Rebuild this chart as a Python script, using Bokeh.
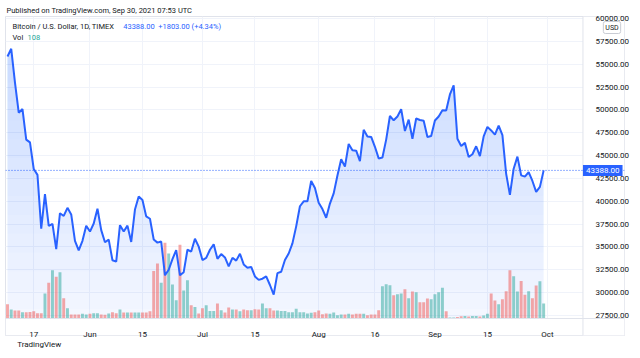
import numpy as np
import pandas as pd
from bokeh.plotting import figure
from bokeh.models import (Range1d, FixedTicker, NumeralTickFormatter, Span, Label,
                          BoxAnnotation)
from bokeh.embed import file_html
from bokeh.resources import INLINE

# ---------------- data ----------------
start_date = "2021-05-10"
closes = [
    # May 10 - May 31
    55860, 56700, 53000, 49700, 50100, 46760, 46450, 43540, 42900, 37000, 40780,
    37300, 37540, 34770, 38700, 38400, 39290, 38560, 35680, 34620, 35680, 37330,
    # June
    36690, 37570, 39190, 36850, 35520, 35800, 33550, 33400, 37390, 36690,
    37340, 35550, 39100, 40520, 40140, 38350, 38090, 35820, 35480, 35600,
    31900, 32510, 33680, 34660, 31900, 32240, 34700, 34500, 35900, 35040,
    # July
    33570, 33800, 34700, 35290, 33700, 34230, 33860, 32880, 33820, 33510,
    34260, 33090, 32730, 32820, 31780, 31400, 31530, 31790, 30840, 29790,
    32140, 32290, 33580, 34290, 35400, 37260, 39460, 40000, 40010, 42220, 41460,
    # August
    39850, 39150, 38200, 39750, 40870, 42830, 44600, 43800, 46280, 45590,
    45550, 44400, 47830, 47100, 47050, 45970, 44700, 44800, 46760, 49340,
    48870, 49290, 50100, 47700, 48950, 46850, 49070, 48900, 48820, 47050, 47160,
    # September
    48850, 49290, 49980, 49940, 51700, 52690, 46860, 46060, 46400, 44850,
    45160, 46030, 44960, 47110, 48150, 47760, 47300, 48300, 47250, 43010,
    40700, 43570, 44890, 42840, 42700, 43210, 42230, 41030, 41585, 43388,
]
volumes = [
    103, 65, 58, 58, 45, 45, 48, 53, 38, 38, 180, 257, 348, 300, 333, 146, 74,
    29, 29, 29, 34, 29, 34, 38, 38, 29, 27, 36, 45, 38, 65, 43, 43, 43, 43, 43,
    43, 43, 53, 343, 396, 257, 545, 468, 245, 132, 531, 202, 276, 96, 84, 36,
    74, 96, 55, 55, 108, 60, 43, 79, 65, 65, 53, 65, 60, 60, 67, 65, 108, 74,
    74, 58, 58, 55, 55, 45, 45, 70, 45, 45, 36, 41, 45, 58, 31, 36, 34, 43,
    24, 29, 29, 34, 29, 34, 34, 34, 24, 29, 29, 60, 233, 247, 240, 168, 175,
    180, 211, 146, 194, 189, 117, 117, 144, 139, 175, 189, 221, 53, 7, 7, 12,
    17, 19, 14, 19, 19, 14, 22, 34, 180, 130, 103, 139, 197, 348, 305, 194,
    271, 171, 197, 146, 238, 269, 108,
]
tick_dates = ["2021-05-17", "2021-06-01", "2021-06-15", "2021-07-01", "2021-07-15",
              "2021-08-01", "2021-08-16", "2021-09-01", "2021-09-15", "2021-10-01"]
tick_labels = ["17", "Jun", "15", "Jul", "15", "Aug", "16", "Sep", "15", "Oct"]
price_ticks = [27500, 30000, 32500, 35000, 37500, 40000, 42500, 45000,
               47500, 50000, 52500, 55000, 57500, 60000]
last_price = 43388.00
change_abs = 1803.00
change_pct = 4.34
last_volume = 108

# ---------------- derived ----------------
dates = pd.date_range(start_date, periods=len(closes), freq="D")
xs = np.array((dates - dates[0]).days, dtype=float)
tick_x = [int((pd.Timestamp(d) - dates[0]).days) for d in tick_dates]
c = np.array(closes, dtype=float)
up = [False] + [closes[i] >= closes[i - 1] for i in range(1, len(closes))]
vol_colors = ["#26a69a" if u else "#ef5350" for u in up]

BLUE = "#2962ff"
TXT = "#131722"
GRID = "#f0f3fa"
BORDER = "#e0e3eb"
FONT = "Roboto"

# layout (the frame is the whole TradingView panel, price/time axis zones included)
X_START, X_END = -0.527, 164.56       # panel left / right
PANE_RIGHT = 153.48                   # right edge of the price pane
Y_START, Y_END = 25310, 60237         # panel bottom / top
PANE_BOTTOM = 27171                   # bottom edge of the price pane
VOL_START, VOL_END = -122, 2174
FOOTER_X, FOOTER_Y = 2.6, 24330       # position of the footer text (below the panel)

p = figure(width=632, height=350, output_backend="svg", toolbar_location=None,
           x_range=Range1d(X_START, X_END), y_range=Range1d(Y_START, Y_END),
           y_axis_location="right",
           min_border_left=5, min_border_right=1, min_border_top=16, min_border_bottom=15)
p.extra_y_ranges = {"vol": Range1d(VOL_START, VOL_END)}
p.outline_line_color = BORDER
p.background_fill_color = "white"
p.border_fill_color = "white"

p.title.text = "Published on TradingView.com, Sep 30, 2021 07:53 UTC"
p.title.align = "left"
p.title.offset = 1
p.title.standoff = 3
p.title.text_font = FONT
p.title.text_font_size = "7.5px"
p.title.text_font_style = "normal"
p.title.text_color = TXT

# grid
p.xgrid.ticker = FixedTicker(ticks=tick_x)
p.ygrid.ticker = FixedTicker(ticks=price_ticks)
p.xgrid.grid_line_color = GRID
p.ygrid.grid_line_color = GRID

# blank the axis zones inside the panel (above the grid, below everything else)
p.add_layout(BoxAnnotation(left=PANE_RIGHT, fill_color="white", fill_alpha=1,
                           line_color=None, level="underlay"))
p.add_layout(BoxAnnotation(top=PANE_BOTTOM, fill_color="white", fill_alpha=1,
                           line_color=None, level="underlay"))

# gradient-ish area under the line
p.varea(x=xs, y1=PANE_BOTTOM, y2=c, fill_color=BLUE, fill_alpha=0.05)
N = 16
a = 1 - (0.74 / 0.95) ** (1 / N)
for k in range(N):
    lev = PANE_BOTTOM + (Y_END - PANE_BOTTOM) * (k + 0.5) / N
    p.varea(x=xs, y1=lev, y2=np.maximum(c, lev), fill_color=BLUE, fill_alpha=a)

# volume
p.vbar(x=xs, top=volumes, bottom=0, width=0.78, y_range_name="vol",
       fill_color=vol_colors, fill_alpha=0.5, line_color=None)

# price line
p.line(xs, c, line_color=BLUE, line_width=2)

# separators of the axis zones
p.add_layout(Span(location=PANE_RIGHT, dimension="height", line_color=BORDER, line_width=1))
p.add_layout(Span(location=PANE_BOTTOM, dimension="width", line_color=BORDER, line_width=1))

# last price dotted line
p.add_layout(Span(location=last_price, dimension="width", line_color=BLUE,
                  line_dash="1 2", line_width=1))

# axes (labels drawn inside the panel's axis zones)
p.xaxis.ticker = FixedTicker(ticks=tick_x)
p.xaxis.major_label_overrides = {t: l for t, l in zip(tick_x, tick_labels)}
p.yaxis.ticker = FixedTicker(ticks=price_ticks)
p.yaxis.formatter = NumeralTickFormatter(format="0.00")
for ax in (p.xaxis[0], p.yaxis[0]):
    ax.axis_line_color = None
    ax.major_tick_line_color = None
    ax.minor_tick_line_color = None
    ax.major_label_text_font = FONT
    ax.major_label_text_font_size = "8px"
    ax.major_label_text_color = TXT
p.xaxis.major_label_standoff = -12
p.yaxis.major_label_standoff = -35


def lab(text, x, y, color=TXT, size="7.5px", **kw):
    p.add_layout(Label(x=x, y=y, x_units="screen", y_units="screen", text=text,
                       text_font=FONT, text_font_size=size, text_color=color,
                       text_baseline="middle", **kw))


lab("Bitcoin / U.S. Dollar, 1D, TIMEX", 7, 309.5)
lab(f"{last_price:.2f}", 117.7, 309.5, color=BLUE)
lab(f"+{change_abs:.2f} (+{change_pct:.2f}%)", 152.7, 309.5, color=BLUE)
lab("Vol", 7, 298.3)
lab(f"{last_volume}", 22, 298.3, color="#26a69a")
lab("USD", 606.5, 308, size="7px", text_align="center",
    background_fill_color="white", border_line_color="#c9ccd4", padding=2, border_radius=2)

p.add_layout(Label(x=PANE_RIGHT, y=last_price, x_units="data", y_units="data",
                   text=f"{last_price:.2f}", text_font=FONT, text_font_size="8px",
                   text_color="white", text_baseline="middle", text_align="left",
                   background_fill_color=BLUE, padding=3))

# footer text, placed in the panel below the chart box
p.add_layout(Label(x=FOOTER_X, y=FOOTER_Y, x_units="data", y_units="data",
                   text="TradingView", text_font=FONT, text_font_size="8px",
                   text_color=TXT, text_baseline="middle", text_align="left"), "below")

open("out.html", "w").write(file_html(p, INLINE))
